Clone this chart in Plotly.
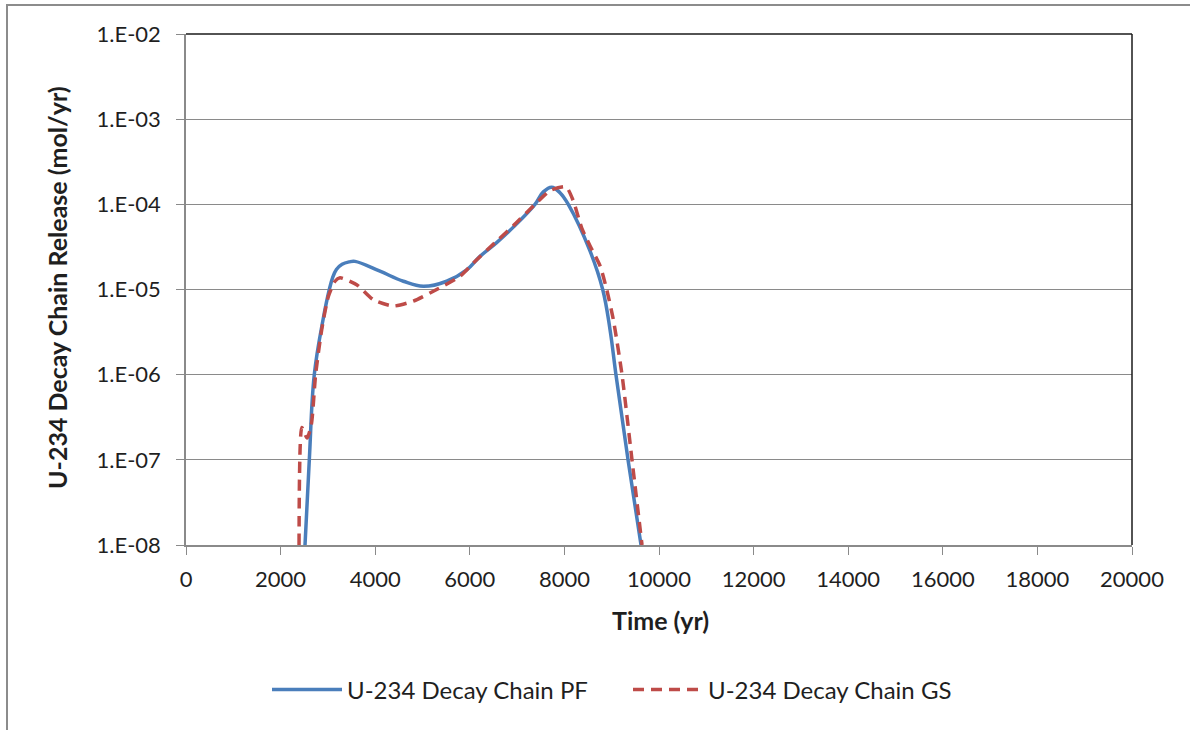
import plotly.graph_objects as go

# ---- data ----
pf_time = [2516, 2607, 2712, 2900, 3030, 3100, 3180, 3300, 3450, 3573, 4101, 4595, 5017, 5511,
           5934, 6216, 6568, 6920, 7378, 7555, 7731, 7907, 8082, 8541, 8810, 8964, 9090, 9345,
           9620]
pf_release = [1e-8, 1e-7, 1e-6, 4.5e-6, 1e-5, 1.38e-5, 1.72e-5, 1.98e-5, 2.11e-5, 2.14e-5,
              1.64e-5, 1.25e-5, 1.09e-5, 1.25e-5, 1.7e-5, 2.45e-5, 3.55e-5, 5.4e-5, 1.0e-4,
              1.4e-4, 1.59e-4, 1.37e-4, 1.0e-4, 2.84e-5, 1.0e-5, 3.4e-6, 1.0e-6, 1.0e-7, 1.0e-8]

gs_time = [2390, 2450, 2560, 2650, 2740, 2870, 3010, 3150, 3256, 3608, 3960, 4383, 4806,
           5300, 5793, 6075, 6568, 6920, 7378, 7700, 8034, 8188, 8365, 8541, 8753, 8894,
           9034, 9218, 9429, 9641]
gs_release = [1e-8, 2.4e-7, 1.8e-7, 2.6e-7, 1.0e-6, 3.4e-6, 8.3e-6, 1.25e-5, 1.37e-5, 1.14e-5,
              7.6e-6, 6.4e-6, 7.3e-6, 1.0e-5, 1.43e-5, 2.05e-5, 3.7e-5, 5.6e-5, 1.0e-4,
              1.45e-4, 1.6e-4, 1.1e-4, 5.3e-5, 3.26e-5, 1.9e-5, 1.0e-5, 4.45e-6, 1.0e-6,
              1.0e-7, 1.0e-8]

y_tickvals = [1e-8, 1e-7, 1e-6, 1e-5, 1e-4, 1e-3, 1e-2]
y_ticktext = ["1.E-08", "1.E-07", "1.E-06", "1.E-05", "1.E-04", "1.E-03", "1.E-02"]
x_tickvals = list(range(0, 20001, 2000))

series_names = ["U-234 Decay Chain PF", "U-234 Decay Chain GS"]

FONT = "Lato"
TXT = "#1f1f1f"
GRID = "#8a8a8a"

fig = go.Figure()
fig.add_trace(go.Scatter(
    x=pf_time, y=pf_release, mode="lines", name=series_names[0],
    line=dict(color="#4A7EBB", width=3.5, shape="spline", smoothing=1.1),
))
fig.add_trace(go.Scatter(
    x=gs_time, y=gs_release, mode="lines", name=series_names[1],
    line=dict(color="#BE4B48", width=3.5, dash="11px,7px", shape="spline", smoothing=0.6),
))

L, R, T, B = 186, 1190 - 1132, 34, 730 - 545
W, H = 1190 - L - R, 730 - T - B

def px_x(p):
    return (p - L) / W

def px_y(p):
    return (730 - B - p) / H

fig.update_layout(
    width=1190, height=730,
    margin=dict(l=L, r=R, t=T, b=B, pad=0),
    paper_bgcolor="white", plot_bgcolor="white",
    font=dict(family=FONT, size=22, color=TXT),
    showlegend=True,
    legend=dict(
        orientation="h", x=px_x(628), xanchor="center", y=px_y(690), yanchor="middle",
        font=dict(family=FONT, size=24, color=TXT), bgcolor="rgba(0,0,0,0)",
        itemwidth=70, entrywidth=276,
    ),
    xaxis=dict(
        range=[0, 20000], tickvals=x_tickvals, ticktext=[str(v) for v in x_tickvals],
        showgrid=False, zeroline=False,
        showline=True, linecolor=GRID, linewidth=1.5,
        ticks="outside", ticklen=8, tickcolor=GRID, tickwidth=1.2,
        ticklabelstandoff=6,
        tickfont=dict(family=FONT, size=22, color=TXT),
    ),
    yaxis=dict(
        type="log", range=[-8, -2], tickvals=y_tickvals, ticktext=y_ticktext,
        showgrid=True, gridcolor=GRID, gridwidth=1.2, zeroline=False,
        showline=True, linecolor=GRID, linewidth=1.5,
        ticks="outside", ticklen=8, tickcolor=GRID, tickwidth=1.2,
        ticklabelstandoff=11,
        tickfont=dict(family=FONT, size=22, color=TXT),
    ),
    shapes=[
        # outer chart frame
        dict(type="rect", xref="paper", yref="paper",
             x0=px_x(7), x1=px_x(1200), y0=px_y(740), y1=px_y(5),
             line=dict(color="#8c8c8c", width=2), layer="below"),
        # plot area top and right border
        dict(type="line", xref="paper", yref="paper", x0=0, x1=1, y0=1, y1=1,
             line=dict(color="#1a1a1a", width=1.5), layer="above"),
        dict(type="line", xref="paper", yref="paper", x0=1, x1=1, y0=0, y1=1,
             line=dict(color="#1a1a1a", width=1.5), layer="above"),
    ],
    annotations=[
        dict(text="<b>Time (yr)</b>", xref="paper", yref="paper",
             x=px_x(660), y=px_y(620), xanchor="center", yanchor="middle",
             showarrow=False, font=dict(family=FONT, size=25, color=TXT)),
        dict(text="<b>U-234 Decay Chain Release (mol/yr)</b>", xref="paper", yref="paper",
             x=px_x(57), y=px_y(288), xanchor="center", yanchor="middle", textangle=-90,
             showarrow=False, font=dict(family=FONT, size=25, color=TXT)),
    ],
)

fig.write_html("out.html")
